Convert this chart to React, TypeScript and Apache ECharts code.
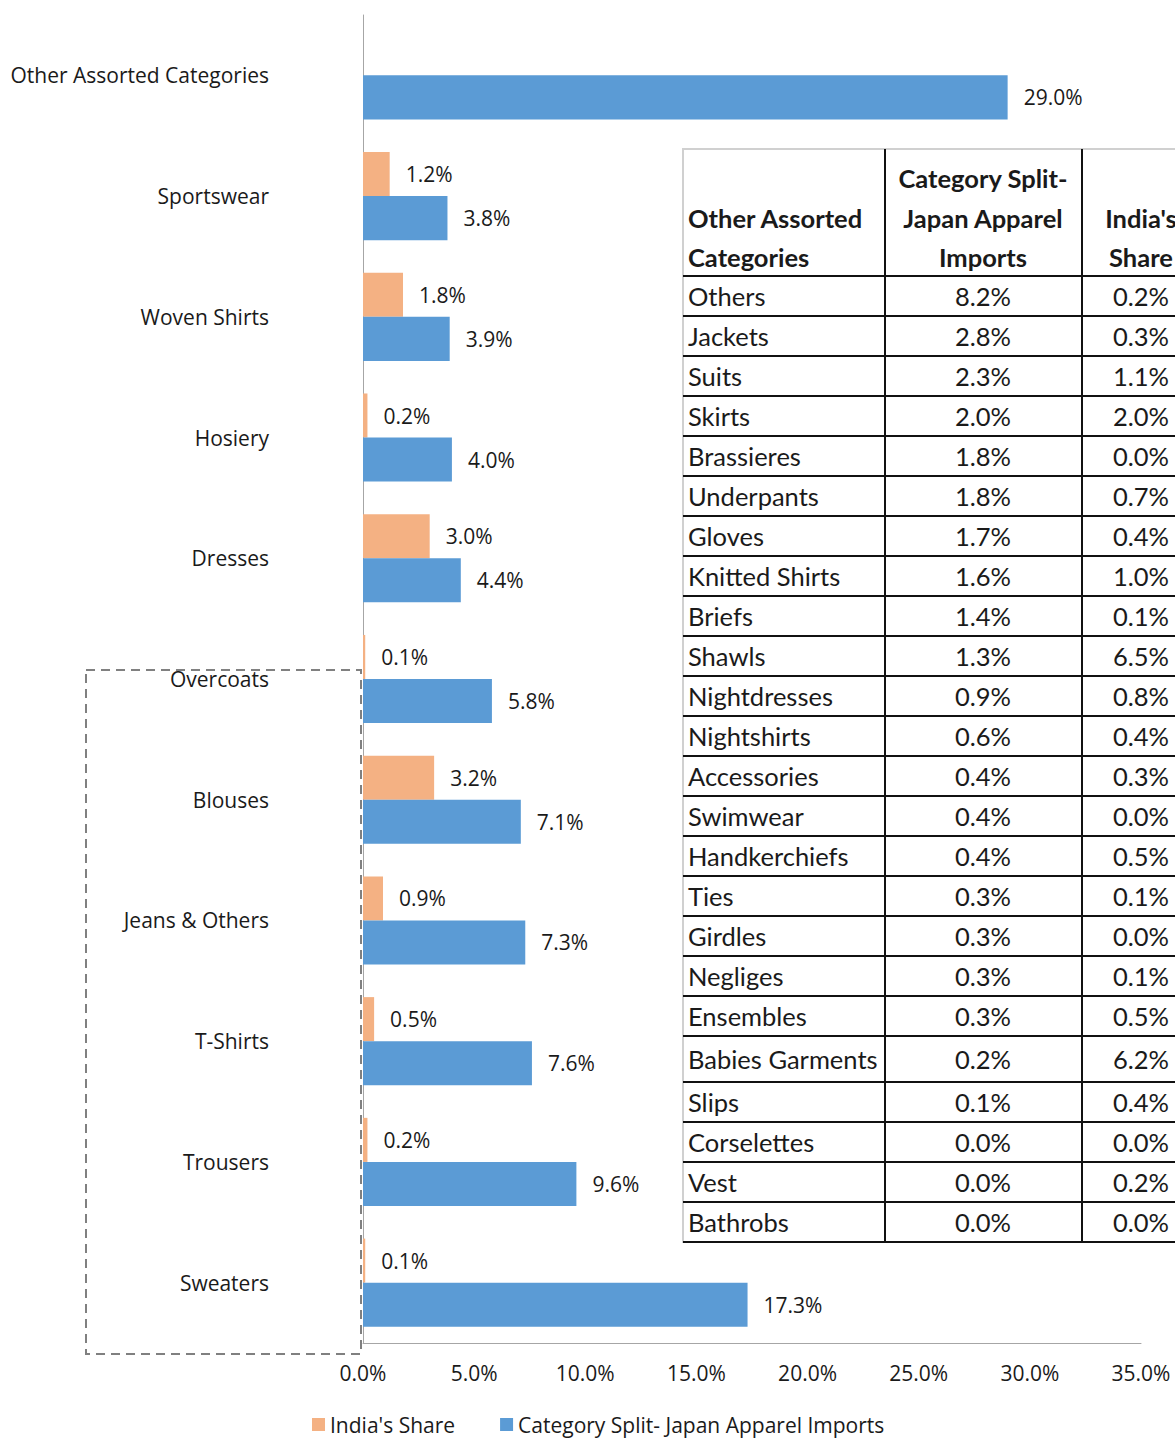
import React, { useEffect, useRef } from "react";
import * as echarts from "echarts";

const categories = [
  "Sweaters",
  "Trousers",
  "T-Shirts",
  "Jeans & Others",
  "Blouses",
  "Overcoats",
  "Dresses",
  "Hosiery",
  "Woven Shirts",
  "Sportswear",
  "Other Assorted Categories",
];
const indiaShare: (number | null)[] = [0.1, 0.2, 0.5, 0.9, 3.2, 0.1, 3.0, 0.2, 1.8, 1.2, null];
const categorySplit = [17.3, 9.6, 7.6, 7.3, 7.1, 5.8, 4.4, 4.0, 3.9, 3.8, 29.0];
const xTicks = [0, 5, 10, 15, 20, 25, 30, 35];

const tableHeader = ["Other Assorted\nCategories", "Category Split-\nJapan Apparel\nImports", "India's\nShare"];
const tableCategories = [
  "Others", "Jackets", "Suits", "Skirts", "Brassieres", "Underpants", "Gloves",
  "Knitted Shirts", "Briefs", "Shawls", "Nightdresses", "Nightshirts", "Accessories",
  "Swimwear", "Handkerchiefs", "Ties", "Girdles", "Negliges", "Ensembles",
  "Babies Garments", "Slips", "Corselettes", "Vest", "Bathrobs",
];
const tableSplit = [
  "8.2%", "2.8%", "2.3%", "2.0%", "1.8%", "1.8%", "1.7%", "1.6%", "1.4%", "1.3%",
  "0.9%", "0.6%", "0.4%", "0.4%", "0.4%", "0.3%", "0.3%", "0.3%", "0.3%", "0.2%",
  "0.1%", "0.0%", "0.0%", "0.0%",
];
const tableIndia = [
  "0.2%", "0.3%", "1.1%", "2.0%", "0.0%", "0.7%", "0.4%", "1.0%", "0.1%", "6.5%",
  "0.8%", "0.4%", "0.3%", "0.0%", "0.5%", "0.1%", "0.0%", "0.1%", "0.5%", "6.2%",
  "0.4%", "0.0%", "0.2%", "0.0%",
];

const FONT = "'Open Sans', sans-serif";
const TFONT = "Lato, 'Open Sans', sans-serif";

function buildTable(): any[] {
  const els: any[] = [];
  const x0 = 683, x1 = 885, x2 = 1082, x3 = 1200;
  const top = 149, headBottom = 276;
  const bounds: number[] = [headBottom];
  for (let i = 0; i < tableCategories.length; i++) {
    const h = tableCategories[i] === "Babies Garments" ? 46 : 40;
    bounds.push(bounds[bounds.length - 1] + h);
  }
  const bottom = bounds[bounds.length - 1];
  els.push({ type: "rect", shape: { x: x0, y: top, width: x3 - x0, height: bottom - top }, style: { fill: "#ffffff", stroke: "#d0d0d0", lineWidth: 2 }, z: 10 });
  [x1, x2].forEach((x) => {
    els.push({ type: "line", shape: { x1: x, y1: top, x2: x, y2: bottom }, style: { stroke: "#111", lineWidth: 2 }, z: 11 });
  });
  bounds.forEach((y) => {
    els.push({ type: "line", shape: { x1: x0, y1: y, x2: x3, y2: y }, style: { stroke: "#111", lineWidth: 2 }, z: 11 });
  });
  const headFont = `bold 25.5px ${TFONT}`;
  const hy = headBottom + 1;
  const hx = [688, 983, 1141];
  const ha = ["left", "center", "center"];
  tableHeader.forEach((t, i) => {
    els.push({ type: "text", x: hx[i], y: hy, style: { text: t, font: headFont, fill: "#1a1a1a", align: ha[i], verticalAlign: "bottom", textAlign: ha[i], textVerticalAlign: "bottom", lineHeight: 39.5 }, z: 12 });
  });
  const bodyFont = `25.5px ${TFONT}`;
  tableCategories.forEach((c, i) => {
    const cy = (bounds[i] + bounds[i + 1]) / 2;
    els.push({ type: "text", x: 688, y: cy, style: { text: c, font: bodyFont, fill: "#1a1a1a", align: "left", verticalAlign: "middle", textAlign: "left", textVerticalAlign: "middle" }, z: 12 });
    els.push({ type: "text", x: 983, y: cy, style: { text: tableSplit[i], font: bodyFont, fill: "#1a1a1a", align: "center", verticalAlign: "middle", textAlign: "center", textVerticalAlign: "middle" }, z: 12 });
    els.push({ type: "text", x: 1141, y: cy, style: { text: tableIndia[i], font: bodyFont, fill: "#1a1a1a", align: "center", verticalAlign: "middle", textAlign: "center", textVerticalAlign: "middle" }, z: 12 });
  });
  return els;
}

export default function App() {
  const ref = useRef<HTMLDivElement>(null);
  useEffect(() => {
    document.body.style.margin = "0";
    const chart = echarts.init(ref.current!, null, { renderer: "svg" });
    const labelFmt = (p: any) => (p.value == null ? "" : Number(p.value).toFixed(1) + "%");
    chart.setOption({
      animation: false,
      backgroundColor: "#ffffff",
      textStyle: { fontFamily: FONT },
      grid: { left: 363, right: 34, top: 15, bottom: 96, containLabel: false },
      legend: {
        bottom: -1,
        left: 307,
        data: ["India's Share", "Category Split- Japan Apparel Imports"],
        icon: "rect",
        itemWidth: 13,
        itemHeight: 13,
        itemGap: 45,
        textStyle: { fontSize: 21, color: "#1a1a1a", fontFamily: FONT },
      },
      xAxis: {
        type: "value",
        min: xTicks[0],
        max: xTicks[xTicks.length - 1],
        interval: xTicks[1] - xTicks[0],
        splitLine: { show: false },
        axisLine: { show: true, lineStyle: { color: "#a6a6a6", width: 1 } },
        axisTick: { show: false },
        axisLabel: { formatter: (v: number) => v.toFixed(1) + "%", fontSize: 21, color: "#1a1a1a", margin: 19, fontFamily: FONT },
      },
      yAxis: {
        type: "category",
        data: categories,
        axisLine: { show: true, lineStyle: { color: "#a6a6a6", width: 1 } },
        axisTick: { show: false },
        axisLabel: { fontSize: 21, color: "#1a1a1a", margin: 94, fontFamily: FONT },
      },
      series: [
        {
          name: "India's Share",
          type: "bar",
          data: indiaShare,
          barGap: "0%",
          barCategoryGap: "27%",
          itemStyle: { color: "#F4B183" },
          label: { show: true, position: "right", distance: 16, formatter: labelFmt, fontSize: 21, color: "#1a1a1a", fontFamily: FONT },
        },
        {
          name: "Category Split- Japan Apparel Imports",
          type: "bar",
          data: categorySplit,
          barGap: "0%",
          barCategoryGap: "27%",
          itemStyle: { color: "#5B9BD5" },
          label: { show: true, position: "right", distance: 16, formatter: labelFmt, fontSize: 21, color: "#1a1a1a", fontFamily: FONT },
        },
      ],
      graphic: [
        { type: "rect", shape: { x: 86, y: 670, width: 275, height: 684 }, style: { fill: "none", stroke: "#808080", lineWidth: 2, lineDash: [9, 6] }, z: 5 },
        ...buildTable(),
      ],
    });
    return () => chart.dispose();
  }, []);
  return <div ref={ref} style={{ width: 1175, height: 1439 }} />;
}
